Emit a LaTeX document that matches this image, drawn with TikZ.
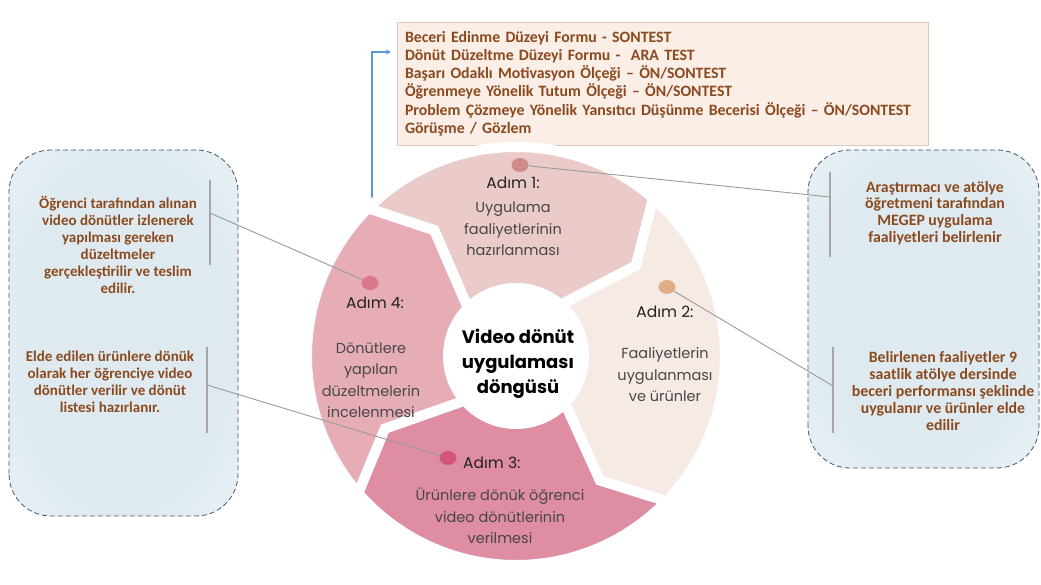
\documentclass[tikz,border=0pt]{standalone}
\usepackage{fontspec}
\usetikzlibrary{arrows.meta,shapes.geometric,calc}
\newfontfamily\pop{Poppins}
\newfontfamily\cbr{Carlito}
\definecolor{segA}{HTML}{EACBCA}
\definecolor{segB}{HTML}{F6EAE5}
\definecolor{segC}{HTML}{DE8DA3}
\definecolor{segD}{HTML}{E7ADB7}
\definecolor{dotA}{HTML}{D08A8A}
\definecolor{dotB}{HTML}{E3AC88}
\definecolor{dotC}{HTML}{D4557A}
\definecolor{dotD}{HTML}{D9788C}
\definecolor{brn}{HTML}{8B4A1E}
\definecolor{lblc}{HTML}{222222}
\definecolor{bodyc}{HTML}{474747}
\definecolor{barc}{HTML}{A6A6A6}
\definecolor{connc}{HTML}{9A9A9A}
\definecolor{boxc}{HTML}{44546A}
\definecolor{boxin}{HTML}{DEEAF0}
\definecolor{boxmid}{HTML}{EBF2F6}
\definecolor{boxout}{HTML}{FBFDFE}
\definecolor{tbf}{HTML}{FAEEE7}
\definecolor{tbd}{HTML}{D8C8BE}
\definecolor{bluec}{HTML}{5B9BD5}
\pgfdeclareradialshading{sidefade}{\pgfpoint{0bp}{0bp}}{color(0bp)=(boxin); color(22bp)=(boxin); color(40bp)=(boxmid); color(52bp)=(boxout); color(75bp)=(boxout)}
\newcommand\segpath[2]{(#1:209pt) arc[start angle=#1, end angle=#2, radius=209pt] -- ({#2-12}:150pt) -- (#2:68pt) arc[start angle=#2, end angle=#1, radius=68pt] -- ({#1-12}:150pt) -- cycle}
\begin{document}
\begin{tikzpicture}[x=1pt,y=1pt,
  sidetext/.style={font=\cbr\bfseries\fontsize{15}{17}\selectfont, text=brn, align=center, inner sep=0},
  sidetextr/.style={font=\cbr\bfseries\fontsize{15.8}{16.8}\selectfont, text=brn, align=center, inner sep=0},
  steplabel/.style={font=\pop\fontsize{15.5}{18}\selectfont, text=lblc, inner sep=0},
  stepbody/.style={font=\pop\fontsize{14.5}{21.5}\selectfont, text=bodyc, align=center, inner sep=0},
  dotnode/.style={ellipse, minimum width=17pt, minimum height=14pt, inner sep=0},
  barline/.style={draw=barc, line width=1.4pt},
  conn/.style={draw=connc, line width=0.9pt},
  sidebox/.style={draw=boxc, dash pattern=on 5pt off 3pt, line width=0.8pt, rounded corners=42pt}]
\useasboundingbox (0,0) rectangle (1041,585);
% side boxes
\shade[shading=sidefade, rounded corners=42pt] (9,69) rectangle (238,435);
\draw[sidebox] (9,69) rectangle (238,435);
\shade[shading=sidefade, rounded corners=42pt] (808,117) rectangle (1039,435);
\draw[sidebox] (808,117) rectangle (1039,435);
% top box
\node[draw=tbd, fill=tbf, line width=0.6pt, minimum width=531pt, minimum height=123pt,
  text width=515pt, align=left, inner sep=0, font=\cbr\bfseries\fontsize{15.8}{18.2}\selectfont, text=brn]
  (tb) at (662.5,501.5) {Beceri Edinme Düzeyi Formu - SONTEST\\
Dönüt Düzeltme Düzeyi Formu -\ \ ARA TEST\\
Başarı Odaklı Motivasyon Ölçeği – ÖN/SONTEST\\
Öğrenmeye Yönelik Tutum Ölçeği – ÖN/SONTEST\\
Problem Çözmeye Yönelik Yansıtıcı Düşünme Becerisi Ölçeği – ÖN/SONTEST\\
Görüşme / Gözlem};
% blue arrow
\coordinate (bs) at (372,375);
\coordinate (be) at (391,533);
\draw[bluec, line width=1.2pt, -{Stealth[length=5pt,width=5pt]}] (bs) |- (be);
% ring
\begin{scope}[shift={(516,229)}]
\fill[segA] \segpath{135}{49};
\fill[segB] \segpath{49}{-44};
\fill[segC] \segpath{-44}{-139};
\fill[segD] \segpath{221}{135};
\draw[white, line width=10pt, line join=miter] \segpath{135}{49};
\draw[white, line width=10pt, line join=miter] \segpath{49}{-44};
\draw[white, line width=10pt, line join=miter] \segpath{-44}{-139};
\draw[white, line width=10pt, line join=miter] \segpath{221}{135};
\end{scope}
% bars
\coordinate (lb1t) at (210,405); \coordinate (lb1b) at (210,320);
\coordinate (lb2t) at (207,238); \coordinate (lb2b) at (207,152);
\coordinate (rb1t) at (830,413); \coordinate (rb1b) at (830,328);
\coordinate (rb2t) at (833,238); \coordinate (rb2b) at (833,152);
\draw[barline] (lb1t) -- (lb1b);
\draw[barline] (lb2t) -- (lb2b);
\draw[barline] (rb1t) -- (rb1b);
\draw[barline] (rb2t) -- (rb2b);
\coordinate (lc1) at (210,372);
\coordinate (lc2) at (207,200);
\coordinate (rc1) at (830,388);
\coordinate (rc2) at (833,199);
% dots
\node[dotnode, fill=dotA] (d1) at (520,420) {};
\node[dotnode, fill=dotB] (d2) at (667,298) {};
\node[dotnode, fill=dotC] (d3) at (448,127) {};
\node[dotnode, fill=dotD] (d4) at (370,302) {};
% connectors
\draw[conn] (d1) -- (rc1);
\draw[conn] (d2) -- (rc2);
\draw[conn] (d3) -- (lc2);
\draw[conn] (d4) -- (lc1);
% side texts
\node[sidetext] (lt1) at (118,340) {Öğrenci tarafından alınan\\video dönütler izlenerek\\yapılması gereken\\düzeltmeler\\gerçekleştirilir ve teslim\\edilir.};
\node[sidetext] (lt2) at (110,203) {Elde edilen ürünlere dönük\\olarak her öğrenciye video\\dönütler verilir ve dönüt\\listesi hazırlanır.};
\node[sidetextr] (rt1) at (935,372) {Araştırmacı ve atölye\\öğretmeni tarafından\\MEGEP uygulama\\faaliyetleri belirlenir};
\node[sidetextr] (rt2) at (943,194) {Belirlenen faaliyetler 9\\saatlik atölye dersinde\\beceri performansı şeklinde\\uygulanır ve ürünler elde\\edilir};
% step texts
\node[steplabel] (l1) at (513,402) {Adım 1:};
\node[stepbody] (b1) at (513,356) {Uygulama\\faaliyetlerinin\\hazırlanması};
\node[steplabel] (l2) at (665,273) {Adım 2:};
\node[stepbody] (b2) at (665,210) {Faaliyetlerin\\uygulanması\\ve ürünler};
\node[steplabel, anchor=west] (l3) at (463,122) {Adım 3:};
\node[stepbody] (b3) at (500,69) {Ürünlere dönük öğrenci\\video dönütlerinin\\verilmesi};
\node[steplabel] (l4) at (375,282) {Adım 4:};
\node[stepbody] (b4) at (371,205) {Dönütlere\\yapılan\\düzeltmelerin\\incelenmesi};
% centre
\node[font=\pop\bfseries\fontsize{18}{25}\selectfont, text=black, align=center, inner sep=0] (ct) at (518,221) {Video dönüt\\uygulaması\\döngüsü};
\end{tikzpicture}
\end{document}
